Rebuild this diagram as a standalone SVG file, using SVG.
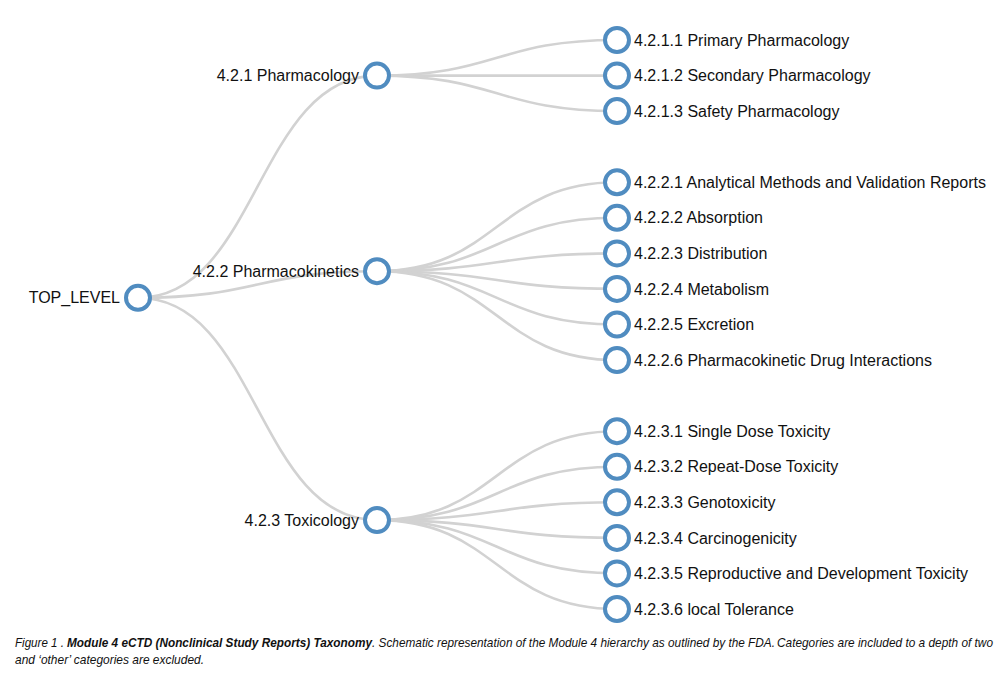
<svg xmlns="http://www.w3.org/2000/svg" width="1008" height="677" viewBox="0 0 1008 677">
<style>
.link{fill:none;stroke:#d2d2d2;stroke-width:2.6}
.node circle{fill:#fff;stroke:#508cc0;stroke-width:4}
.node text{font-family:"Liberation Sans",Arial,Helvetica,sans-serif;font-size:16px;fill:#111}
.l{text-anchor:end}
.cap{font-family:"Liberation Sans",Arial,sans-serif;font-size:13px;font-style:italic;fill:#111}
</style>
<rect width="1008" height="677" fill="#fff"/>
<g id="links">
<path class="link" d="M138,297.8C257.5,297.8 257.5,75.6 377,75.6"/>
<path class="link" d="M138,297.8C257.5,297.8 257.5,271.2 377,271.2"/>
<path class="link" d="M138,297.8C257.5,297.8 257.5,520.1 377,520.1"/>
<path class="link" d="M377,75.6C497,75.6 497,40 617,40"/>
<path class="link" d="M377,75.6C497,75.6 497,75.6 617,75.6"/>
<path class="link" d="M377,75.6C497,75.6 497,111.1 617,111.1"/>
<path class="link" d="M377,271.2C497,271.2 497,182.3 617,182.3"/>
<path class="link" d="M377,271.2C497,271.2 497,217.8 617,217.8"/>
<path class="link" d="M377,271.2C497,271.2 497,253.4 617,253.4"/>
<path class="link" d="M377,271.2C497,271.2 497,288.9 617,288.9"/>
<path class="link" d="M377,271.2C497,271.2 497,324.5 617,324.5"/>
<path class="link" d="M377,271.2C497,271.2 497,360.1 617,360.1"/>
<path class="link" d="M377,520.1C497,520.1 497,431.2 617,431.2"/>
<path class="link" d="M377,520.1C497,520.1 497,466.8 617,466.8"/>
<path class="link" d="M377,520.1C497,520.1 497,502.3 617,502.3"/>
<path class="link" d="M377,520.1C497,520.1 497,537.9 617,537.9"/>
<path class="link" d="M377,520.1C497,520.1 497,573.4 617,573.4"/>
<path class="link" d="M377,520.1C497,520.1 497,609 617,609"/>
</g>
<g id="n-root" class="node"><circle cx="138" cy="297.8" r="12"/><text class="l" x="120" y="303.4">TOP_LEVEL</text></g>
<g id="n-421" class="node"><circle cx="377" cy="75.6" r="12"/><text class="l" x="359" y="81.2">4.2.1 Pharmacology</text></g>
<g id="n-422" class="node"><circle cx="377" cy="271.2" r="12"/><text class="l" x="359" y="276.8">4.2.2 Pharmacokinetics</text></g>
<g id="n-423" class="node"><circle cx="377" cy="520.1" r="12"/><text class="l" x="359" y="525.7">4.2.3 Toxicology</text></g>
<g id="n-4211" class="node"><circle cx="617" cy="40" r="12"/><text x="634" y="45.6">4.2.1.1 Primary Pharmacology</text></g>
<g id="n-4212" class="node"><circle cx="617" cy="75.6" r="12"/><text x="634" y="81.2">4.2.1.2 Secondary Pharmacology</text></g>
<g id="n-4213" class="node"><circle cx="617" cy="111.1" r="12"/><text x="634" y="116.7">4.2.1.3 Safety Pharmacology</text></g>
<g id="n-4221" class="node"><circle cx="617" cy="182.3" r="12"/><text x="634" y="187.9">4.2.2.1 Analytical Methods and Validation Reports</text></g>
<g id="n-4222" class="node"><circle cx="617" cy="217.8" r="12"/><text x="634" y="223.4">4.2.2.2 Absorption</text></g>
<g id="n-4223" class="node"><circle cx="617" cy="253.4" r="12"/><text x="634" y="259">4.2.2.3 Distribution</text></g>
<g id="n-4224" class="node"><circle cx="617" cy="288.9" r="12"/><text x="634" y="294.5">4.2.2.4 Metabolism</text></g>
<g id="n-4225" class="node"><circle cx="617" cy="324.5" r="12"/><text x="634" y="330.1">4.2.2.5 Excretion</text></g>
<g id="n-4226" class="node"><circle cx="617" cy="360.1" r="12"/><text x="634" y="365.7">4.2.2.6 Pharmacokinetic Drug Interactions</text></g>
<g id="n-4231" class="node"><circle cx="617" cy="431.2" r="12"/><text x="634" y="436.8">4.2.3.1 Single Dose Toxicity</text></g>
<g id="n-4232" class="node"><circle cx="617" cy="466.8" r="12"/><text x="634" y="472.4">4.2.3.2 Repeat-Dose Toxicity</text></g>
<g id="n-4233" class="node"><circle cx="617" cy="502.3" r="12"/><text x="634" y="507.9">4.2.3.3 Genotoxicity</text></g>
<g id="n-4234" class="node"><circle cx="617" cy="537.9" r="12"/><text x="634" y="543.5">4.2.3.4 Carcinogenicity</text></g>
<g id="n-4235" class="node"><circle cx="617" cy="573.4" r="12"/><text x="634" y="579">4.2.3.5 Reproductive and Development Toxicity</text></g>
<g id="n-4236" class="node"><circle cx="617" cy="609" r="12"/><text x="634" y="614.6">4.2.3.6 local Tolerance</text></g>
<g id="caption" transform="scale(0.82 1)">
<text class="cap" x="18.29" y="647" textLength="59.76" lengthAdjust="spacingAndGlyphs">Figure 1 .</text>
<text class="cap" x="81.71" y="647" font-weight="bold" textLength="371.95" lengthAdjust="spacingAndGlyphs">Module 4 eCTD (Nonclinical Study Reports) Taxonomy</text>
<text class="cap" x="453.66" y="647" textLength="491.46" lengthAdjust="spacingAndGlyphs">. Schematic representation of the Module 4 hierarchy as outlined by the FDA.</text>
<text class="cap" x="947.56" y="647" textLength="263.41" lengthAdjust="spacingAndGlyphs">Categories are included to a depth of two</text>
<text class="cap" x="18.29" y="664" textLength="230.49" lengthAdjust="spacingAndGlyphs">and ‘other’ categories are excluded.</text>
</g>
</svg>
